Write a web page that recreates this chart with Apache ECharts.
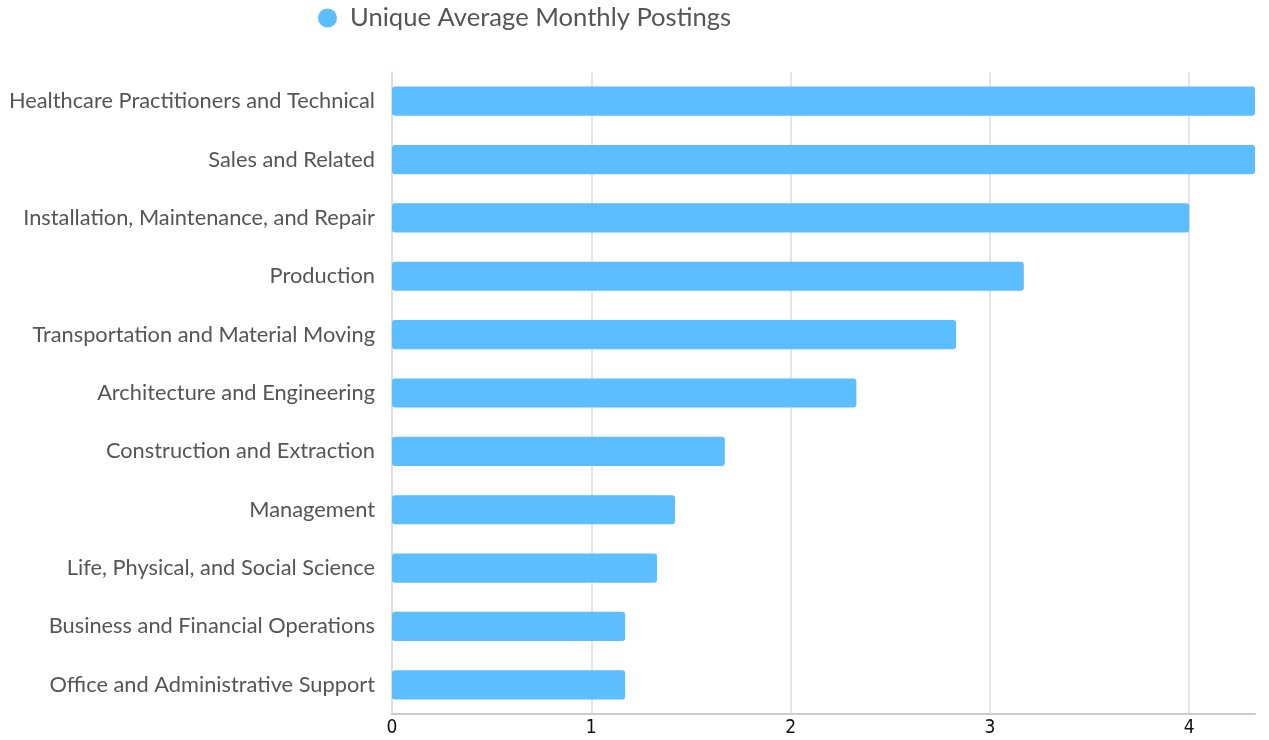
<!DOCTYPE html>
<html>
<head>
<meta charset="utf-8">
<script src="https://cdn.jsdelivr.net/npm/echarts@6/dist/echarts.min.js"></script>
<style>
  html, body { margin: 0; padding: 0; background: #fff; }
  #chart { width: 1269px; height: 740px; }
</style>
</head>
<body>
<div id="chart"></div>
<script>
// Occupation groups, top to bottom
const categories = [
  'Healthcare Practitioners and Technical',
  'Sales and Related',
  'Installation, Maintenance, and Repair',
  'Production',
  'Transportation and Material Moving',
  'Architecture and Engineering',
  'Construction and Extraction',
  'Management',
  'Life, Physical, and Social Science',
  'Business and Financial Operations',
  'Office and Administrative Support'
];
const postings = [4.33, 4.33, 4.0, 3.17, 2.83, 2.33, 1.67, 1.42, 1.33, 1.17, 1.17];
const seriesName = 'Unique Average Monthly Postings';
const xTicks = [0, 1, 2, 3, 4];

const chart = echarts.init(document.getElementById('chart'), null, { renderer: 'canvas' });
chart.setOption({
  animation: false,
  legend: {
    top: 0,
    left: 313,
    icon: 'circle',
    itemWidth: 19,
    itemHeight: 19,
    textStyle: { fontFamily: 'Lato', fontSize: 25.6, color: '#555', padding: [0, 0, 0, 8] },
    data: [seriesName]
  },
  grid: { left: 392, right: 14, top: 72, bottom: 26, containLabel: false },
  xAxis: {
    type: 'value',
    min: 0,
    max: 4.33,
    interval: 1,
    axisLine: { show: true, lineStyle: { color: '#ccc', width: 2 } },
    axisTick: { show: false },
    splitLine: { show: true, showMaxLine: false, lineStyle: { color: '#ddd', width: 1.5 } },
    axisLabel: {
      showMaxLabel: false,
      margin: 5,
      color: '#111',
      fontFamily: 'Liberation Sans Narrow, DejaVu Sans Condensed, sans-serif',
      fontSize: 19,
      formatter: v => (xTicks.indexOf(v) >= 0 ? String(v) : '')
    }
  },
  yAxis: {
    type: 'category',
    inverse: true,
    data: categories,
    axisLine: { show: true, lineStyle: { color: '#ddd', width: 1.5 } },
    axisTick: { show: false },
    axisLabel: { margin: 17, color: '#555', fontFamily: 'Lato', fontSize: 21.8 }
  },
  series: [{
    name: seriesName,
    type: 'bar',
    data: postings,
    barWidth: '50%',
    itemStyle: { color: '#5cbdff', borderRadius: 3 }
  }]
});
</script>
</body>
</html>
